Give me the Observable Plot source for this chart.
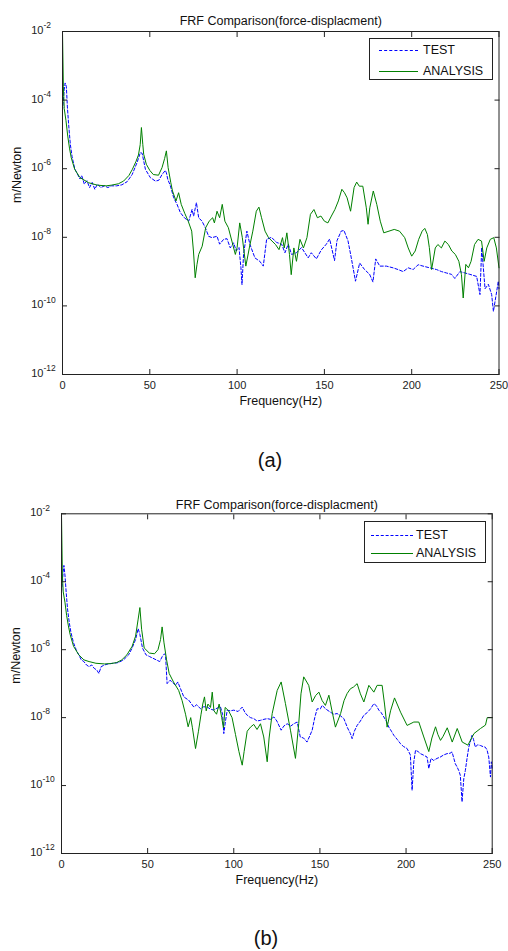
<!DOCTYPE html>
<html><head><meta charset="utf-8">
<script src="https://cdn.jsdelivr.net/npm/d3@7"></script>
<script src="https://cdn.jsdelivr.net/npm/@observablehq/plot@0.6"></script>
<style>
body{margin:0;background:#fff;width:508px;height:951px;position:relative;overflow:hidden;font-family:"Liberation Sans",Arial,Helvetica,sans-serif;}
.panel{position:absolute;left:0;width:508px;height:420px;}
.legend{position:absolute;background:#fff;border:1px solid #222;box-sizing:border-box;font-size:12.5px;color:#111;}
.legend .row{position:absolute;left:0;height:16px;line-height:16px;white-space:nowrap;}
.legend .sample{position:absolute;top:8px;height:0;}
.legend span{position:absolute;top:0;}
.cap{position:absolute;font-size:20px;color:#111;transform:translate(-50%,-50%);}
</style></head><body>
<div id="pa" class="panel" style="top:0"></div>
<div id="pb" class="panel" style="top:480px"></div>
<div class="cap" style="left:270px;top:460px">(a)</div>
<div class="cap" style="left:266px;top:938px">(b)</div>
<script>
// ---- shared texts and ticks ----
const titleText = "FRF Comparison(force-displacment)";
const xLabelText = "Frequency(Hz)";
const yLabelText = "m/Newton";
const seriesNames = ["TEST", "ANALYSIS"];
const xTicks = [0, 50, 100, 150, 200, 250];
const yTicks = [1e-2, 1e-4, 1e-6, 1e-8, 1e-10, 1e-12];

// ---- panel (a): values are log10(m/Newton) ----
const freqTestA = [0,0.5,1,1.5,2.2,2.8,3.5,4.5,5.5,7,8.5,10,11,12.5,14,15.5,17,18.5,20,22,24,26,28,31,34,37,39.9,42.7,44.6,45.6,47.5,50.3,53.2,55.1,57,58.9,59.5,60.3,61.8,63.7,65.6,67.5,69.8,72.3,74.2,75.1,76.7,78,79.9,81.8,83.7,85.6,88.5,90,92.3,94.2,96.1,98,99.5,101.1,102.2,102.8,103.7,105.6,107.3,110.2,113,115,116.9,119.7,122.6,125.5,127.4,129.3,131.2,134,136.9,140.7,142.5,145.4,148.2,151.1,153,155.8,157.2,159.6,161.2,163.5,165.4,167.8,170.2,173,175.9,177.8,179.4,181.7,185.5,189.3,192.2,195.1,198,200.8,203.7,206.5,210.3,214.2,217.1,219.9,222.8,224.7,227.6,230.5,233.3,237.2,239.1,240.1,242,243.9,245.8,246.8,248.7,249.6,250];
const logTestA = [-4.3,-4.0,-3.7,-3.5,-3.6,-4.2,-4.7,-5.3,-5.65,-6.0,-6.15,-6.3,-6.2,-6.45,-6.35,-6.55,-6.4,-6.6,-6.45,-6.55,-6.5,-6.55,-6.5,-6.5,-6.47,-6.38,-6.17,-5.82,-5.53,-5.55,-6.02,-6.26,-6.36,-6.34,-6.17,-6.05,-6.12,-6.31,-6.5,-6.85,-7.04,-7.28,-7.43,-7.53,-7.19,-7.38,-6.99,-7.43,-7.53,-7.72,-7.97,-8.01,-7.97,-8.2,-8.06,-8.04,-8.31,-8.16,-8.4,-8.3,-8.89,-9.38,-8.5,-7.82,-8.2,-8.6,-8.7,-8.84,-8.06,-8.0,-8.15,-8.2,-8.45,-8.2,-8.5,-8.45,-8.3,-8.6,-8.45,-8.63,-8.37,-8.2,-8.05,-8.68,-8.1,-7.82,-7.8,-8.1,-8.6,-9.28,-8.75,-8.94,-9.08,-9.3,-8.63,-8.84,-8.84,-8.89,-8.94,-9.0,-8.89,-8.94,-8.8,-8.84,-8.89,-8.94,-9.0,-9.04,-9.08,-9.2,-9.0,-9.04,-9.08,-9.14,-9.67,-8.3,-9.5,-9.37,-9.67,-10.16,-9.57,-9.28,-9.5];
const freqAnA = [0,0.5,1,2,3,4,5,7,10,15,20,25,28,32,35,38,40,42,43.5,44.5,45.2,46,46.5,48,50,52,55,57,58.5,59.5,60.5,62,63,65,66.5,68,70,72,74,75,76,77,78,80,82,84,86,87,88.5,90,91.5,93,95,97,99,100,101.5,103,105,107,109,111,112.5,114,116,118,120,122,124,126,127,128.5,130,131,132.5,134,136,138,140,142,144,146,148,150,152,154,156,158,160,161.5,163,165,167,168.5,170,172,174,175,176,178,180,182,184,187,190,193,196,198,200,202,204,206,207.5,209,210.1,211.4,213.5,215,217,219,221,223,225,227,228.5,229.5,231,232.5,234,236,238,240,241.5,243,245,247,248.5,250];
const logAnA = [-2.0,-3.6,-4.25,-4.6,-5.05,-5.4,-5.68,-6.02,-6.26,-6.41,-6.48,-6.5,-6.48,-6.44,-6.36,-6.2,-6.02,-5.8,-5.6,-5.3,-4.8,-5.3,-5.58,-5.87,-6.05,-6.17,-6.19,-5.97,-5.7,-5.48,-5.97,-6.4,-6.65,-6.94,-6.7,-7.04,-7.3,-7.53,-7.82,-8.4,-9.18,-8.8,-8.5,-8.26,-7.72,-7.53,-7.43,-7.58,-7.24,-7.43,-7.04,-7.53,-7.72,-8.11,-8.5,-8.3,-7.58,-8.01,-8.84,-8.31,-7.82,-7.24,-7.12,-7.43,-7.82,-8.01,-8.11,-8.21,-8.36,-8.01,-8.31,-7.87,-8.5,-9.09,-8.31,-8.7,-8.06,-8.31,-8.01,-7.33,-7.19,-7.43,-7.38,-7.53,-7.58,-7.38,-7.19,-6.94,-6.6,-6.7,-6.85,-7.24,-6.55,-6.39,-6.51,-6.51,-7.14,-7.62,-7.14,-6.65,-7.04,-7.53,-7.87,-7.82,-7.77,-7.82,-8.01,-8.31,-8.55,-8.4,-8.06,-7.82,-7.74,-7.92,-8.3,-8.94,-8.31,-8.21,-8.31,-8.11,-8.21,-8.4,-8.5,-8.7,-9.09,-9.77,-8.79,-8.89,-8.7,-8.21,-8.06,-8.11,-8.7,-8.31,-8.06,-8.01,-8.31,-8.89];

// ---- panel (b) ----
const freqTestB = [0,0.5,1,1.4,2,2.7,3.5,4.5,5.5,7,8.5,10,11.5,13,14.5,16,17.5,19,20.5,21.7,23,25,27,30,33,36,39,41,43,44.5,45.5,47,49,51,53,55,57,58.5,59.8,60.4,61.3,63,64.2,66.2,67.5,69.1,71,73.9,75.5,76.8,78.5,80.7,82.5,84.6,86.5,88.4,90.3,92.3,93.5,94.2,95.2,96.2,98,100,102.5,104.9,106.5,107.8,109.7,111.6,113.5,115.5,117.5,119.4,121.3,123.3,125,127.5,129,131,133,134.9,136.8,138.6,140.5,142.5,144,145.5,147,148.4,150.3,151.3,153.5,156.1,158,160,162,163.9,166,167.7,168.7,170,171.6,173.5,175.5,177.5,179.4,181.3,182.8,184.2,185.5,187.1,188.5,190,191.5,192.9,195,196.8,198.5,200.6,202.5,203.5,204.5,205.5,207,208.3,210,212.2,213.2,214.5,216,218,219.9,221.8,223.8,225.5,226.7,228.6,229.6,230.6,231.5,232.5,233.5,234.4,235.4,236.4,238.3,239.2,240.2,241.5,243.1,244.5,246,247,248,249,249.5,250];
const logTestB = [-4.3,-4.0,-3.7,-3.52,-3.8,-4.3,-4.8,-5.2,-5.5,-5.8,-6.0,-6.15,-6.3,-6.35,-6.45,-6.5,-6.45,-6.55,-6.6,-6.7,-6.5,-6.45,-6.42,-6.4,-6.38,-6.3,-6.15,-5.95,-5.7,-5.38,-5.55,-5.95,-6.15,-6.2,-6.25,-6.3,-6.35,-6.2,-6.12,-6.17,-7.0,-6.9,-6.95,-7.05,-6.95,-7.15,-7.39,-7.49,-7.6,-7.69,-7.62,-7.74,-7.68,-7.69,-7.75,-7.78,-7.72,-7.69,-7.9,-8.47,-8.1,-7.78,-7.8,-7.78,-7.82,-7.69,-7.85,-7.93,-8.0,-8.03,-8.1,-8.08,-8.05,-8.03,-8.05,-7.98,-8.1,-8.37,-8.25,-8.18,-8.25,-8.18,-8.13,-8.57,-8.6,-8.72,-8.55,-8.37,-8.0,-7.74,-7.74,-7.64,-7.75,-7.84,-7.9,-7.88,-7.95,-8.03,-8.3,-8.47,-8.62,-8.4,-8.23,-8.1,-7.93,-7.85,-7.74,-7.59,-7.65,-7.78,-7.85,-7.98,-8.1,-8.28,-8.4,-8.52,-8.65,-8.77,-8.85,-8.91,-9.1,-10.14,-9.3,-8.96,-9.0,-9.06,-9.1,-9.16,-9.5,-9.2,-9.26,-9.2,-9.16,-9.1,-9.06,-9.05,-9.01,-9.36,-9.45,-9.56,-9.7,-10.48,-9.8,-9.56,-9.2,-8.87,-8.52,-8.65,-8.87,-8.8,-8.82,-8.85,-8.87,-8.95,-9.16,-9.75,-9.3,-9.5];
const freqAnB = [0,0.5,1,2,3,4,5,7,10,13,16,20,25,28.4,32,35,38,41,43,44.5,45.5,46.5,48,51,54,56,57.5,58.4,59.5,61,62.5,65,68,70,72,73.5,75,76,77.8,79.5,81,82,83,84,85,86.5,87.5,88.5,90,91.5,93,94,95,97,99,101,103,104.9,106,107.8,109.7,111.6,113.5,115.5,117.4,119.4,120.5,122.3,125.2,127.5,130,132.9,135.8,137.7,139,140.6,143.5,145.5,147.5,149.4,151.3,153.2,155.2,157,159,162,164,165.8,167.7,169.5,171.6,173.5,175.5,178.4,181.3,183.2,186.1,187.5,189,191,193.3,196.8,200.6,204.5,207.4,210.3,213.2,215,217.1,218.5,220,221.5,223.9,226.8,229.7,232.6,235.9,239.4,243.2,246.1,247.1,250];
const logAnB = [-2.0,-3.8,-4.3,-4.6,-5.0,-5.3,-5.55,-5.9,-6.15,-6.3,-6.35,-6.4,-6.42,-6.41,-6.38,-6.3,-6.15,-5.9,-5.6,-5.1,-4.76,-5.4,-5.95,-6.1,-6.12,-6.0,-5.7,-5.33,-5.8,-6.3,-6.7,-6.95,-7.2,-7.5,-7.9,-8.27,-8.0,-8.3,-8.91,-8.4,-7.9,-7.6,-7.39,-7.8,-7.6,-7.7,-7.25,-7.8,-7.9,-7.6,-8.0,-8.3,-7.7,-7.8,-8.0,-8.5,-9.0,-9.4,-9.0,-8.4,-8.28,-8.2,-8.35,-8.18,-8.57,-9.3,-8.6,-7.88,-7.2,-6.95,-7.59,-8.37,-9.2,-8.18,-7.3,-6.8,-7.05,-7.54,-7.35,-7.25,-7.5,-7.64,-7.34,-7.8,-8.28,-7.88,-7.5,-7.29,-7.15,-7.1,-7.0,-7.3,-7.54,-7.05,-7.25,-7.05,-7.05,-7.6,-8.28,-7.8,-7.42,-7.84,-8.23,-8.13,-8.13,-8.57,-9.0,-8.6,-8.27,-8.5,-8.67,-8.55,-8.3,-8.72,-8.32,-8.72,-8.81,-8.47,-8.32,-8.22,-8.0,-8.0];

const FONT = '"Liberation Sans", Arial, Helvetica, sans-serif';
const TEST_COLOR = "#0000ff";
const AN_COLOR = "#008000";

function rows(freqs, logs) {
  return freqs.map((f, i) => ({f, v: Math.pow(10, logs[i])}));
}

function drawPanel(el, cfg) {
  const test = rows(cfg.testF, cfg.testV);
  const an = rows(cfg.anF, cfg.anV);
  const svg = Plot.plot({
    width: 508, height: 420,
    marginTop: cfg.mt, marginRight: cfg.mr, marginBottom: cfg.mb, marginLeft: cfg.ml,
    style: {fontFamily: FONT, fontSize: "11px", color: "#222", background: "transparent", overflow: "visible"},
    x: {domain: [0, 250], label: null},
    y: {type: "log", domain: [1e-12, 1e-2], label: null},
    marks: [
      Plot.line(test, {x: "f", y: "v", stroke: TEST_COLOR, strokeWidth: 1, strokeDasharray: "3,2"}),
      Plot.line(an, {x: "f", y: "v", stroke: AN_COLOR, strokeWidth: 1}),
      Plot.frame({stroke: "#222"}),
      Plot.axisX(xTicks, {anchor: "bottom", tickSize: -5, tickFormat: () => "", label: null, stroke: "#222"}),
      Plot.axisX(xTicks, {anchor: "top", tickSize: -5, tickFormat: () => "", label: null, stroke: "#222"}),
      Plot.axisX(xTicks, {anchor: "bottom", tickSize: 0, tickPadding: 7, fontSize: 11, label: null}),
      Plot.axisY(yTicks, {anchor: "left", tickSize: -5, tickFormat: () => "", label: null, stroke: "#222"}),
      Plot.axisY(yTicks, {anchor: "right", tickSize: -5, tickFormat: () => "", label: null, stroke: "#222"}),
      Plot.axisY(yTicks, {anchor: "left", tickSize: 0, tickPadding: 19, dy: -1, fontSize: 11, tickFormat: () => "10", label: null}),
      Plot.axisY(yTicks, {anchor: "left", tickSize: 0, tickPadding: 19, dy: -6, fontSize: 8.5, textAnchor: "start",
        tickFormat: d => String(Math.round(Math.log10(d))), label: null}),
      Plot.text([titleText], {frameAnchor: "top", dy: cfg.titleDy, fontSize: 12.5, fill: "#111"}),
      Plot.text([xLabelText], {frameAnchor: "bottom", dy: 30, fontSize: 12.5, fill: "#111"}),
      Plot.text([yLabelText], {frameAnchor: "left", dx: -46, rotate: -90, fontSize: 12.5, fill: "#111"})
    ]
  });
  el.appendChild(svg);

  // legend box (inside the axes, top right)
  const L = cfg.legend;
  const box = document.createElement("div");
  box.className = "legend";
  box.style.left = L.left + "px"; box.style.top = L.top + "px";
  box.style.width = L.w + "px"; box.style.height = L.h + "px";
  seriesNames.forEach((name, i) => {
    const row = document.createElement("div");
    row.className = "row";
    row.style.top = (L.rowY[i] - 8) + "px";
    row.style.width = L.w + "px";
    const sample = document.createElement("div");
    sample.className = "sample";
    sample.style.left = L.lineX1 + "px";
    sample.style.width = (L.lineX2 - L.lineX1) + "px";
    sample.style.borderTop = "1px " + (i === 0 ? "dashed " : "solid ") + (i === 0 ? TEST_COLOR : AN_COLOR);
    const label = document.createElement("span");
    label.style.left = L.textX + "px";
    label.textContent = name;
    row.appendChild(sample);
    row.appendChild(label);
    box.appendChild(row);
  });
  el.appendChild(box);
}

drawPanel(document.getElementById("pa"), {
  testF: freqTestA, testV: logTestA, anF: freqAnA, anV: logAnA,
  mt: 31, mr: 9.5, mb: 46, ml: 62, titleDy: -15,
  legend: {left: 369, top: 38, w: 124, h: 42, rowY: [11, 31.5], lineX1: 9, lineX2: 48, textX: 53}
});
drawPanel(document.getElementById("pb"), {
  testF: freqTestB, testV: logTestB, anF: freqAnB, anV: logAnB,
  mt: 33.3, mr: 16.3, mb: 47, ml: 61, titleDy: -13.5,
  legend: {left: 364, top: 41, w: 122, h: 42, rowY: [12.5, 30.5], lineX1: 6, lineX2: 48, textX: 51}
});
</script>
</body></html>
